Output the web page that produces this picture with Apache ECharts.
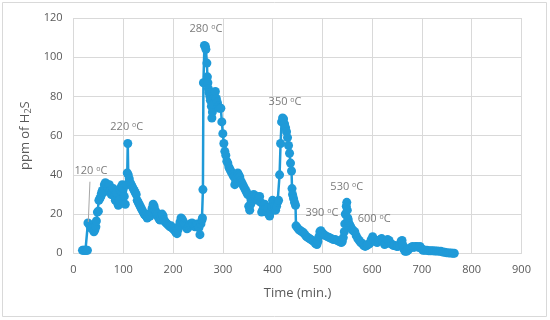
<!DOCTYPE html>
<html>
<head>
<meta charset="utf-8">
<script src="https://cdn.jsdelivr.net/npm/echarts@6/dist/echarts.min.js"></script>
<style>html,body{margin:0;padding:0;background:#fff}#c{width:550px;height:320px}</style>
</head>
<body>
<div id="c"></div>
<script>
var timeMin = [18,20,22,24,26,28,29,31,33,35,37,39,41,43,45,46,48,50,51,53,55,56,58,60,62,64,66,68,70,72,74,76,78,80,82,84,86,88,90,92,94,96,98,100,102,104,106,108,109,110,112,114,116,118,120,122,124,126,128,130,132,134,136,138,140,142,144,146,148,150,152,154,156,158,160,162,164,166,168,170,172,174,176,178,180,182,184,186,188,190,192,194,196,198,200,202,204,206,208,210,212,214,216,218,220,222,224,226,228,230,232,234,236,238,240,242,244,246,248,250,252,254,256,258,259,260,261,263,265,266,268,269,270,271,272,274,275,277,278,279,281,283,285,287,289,291,293,296,298,300,302,304,306,308,310,312,314,316,318,320,322,324,326,328,330,332,334,336,338,340,342,344,346,348,350,352,354,356,358,360,362,364,366,368,370,372,374,376,378,380,382,384,386,388,390,392,394,396,398,400,402,404,406,408,410,412,414,416,418,420,422,424,426,428,430,432,434,436,438,439,440,442,444,446,447,450,453,456,459,462,465,468,471,474,477,480,483,486,489,491,493,495,497,499,501,503,506,510,514,518,522,526,530,534,538,540,542,544,545,546,548,549,550,551,552,554,556,558,560,562,565,568,571,574,577,580,583,586,589,592,595,598,601,604,607,610,613,616,619,622,625,628,631,634,637,640,643,646,649,652,655,658,660,662,664,666,669,672,675,678,681,684,687,690,693,696,699,702,706,710,714,718,722,726,730,734,738,742,746,750,754,758,762,765];
var ppmH2S = [1.5,1.5,1.5,1.5,1.5,1.5,15.5,15,14,13,12.5,13,11,12,13.5,16.5,21,21.5,27,28,29,30.5,32,31,35,36,35.5,34,33,35,32,30,31,33,29,27,31,26,24.5,27,32,34,35,33,29,25,35,41,56,40,38,36,35,34,33,32,31,30,27,26,25,24,23,22,21,20,19.5,19,18,18.5,20,19,21,23,25,24,22,21,20,18.5,17.5,17,18.5,20,19,17,16,15.5,15,14.5,14,13.5,14,13,12.5,12,11.5,10.5,10,12,14,16,18,17.5,16.5,15,14,13.5,12.5,13,14,15,14.5,15.5,15,14,13.5,14,15,14.5,13,9.5,15,17,18,32.5,87,106,105.5,104,97,90,87,84,82,80,78,75,69,72,76,80,82.5,79,77,75,74,74,67,61,56,52,50,47,46,44,43,42,41,40,39,35,37,39,41,40,39,37,36,35,34,33,32,31,30,24,22,25,28,29,30,29,28,29,27,28,29,26,21,22,24,25,23,21,23,20,19,21,24,27,26,24,22,24,26,27,40,56,67,69,68.5,66,64,62,59,55,51,46,42,33,30,28,26,24.5,14,13,12,11.5,11,10.5,9.5,8.5,8,7.5,7,6.5,6,5,4.5,6,8.5,11,11.5,10.5,10,9.5,9,8.5,8,7.5,7,7,6.5,6,5.5,6,8,11,15,20,24,26,22,18,17,15,14,13,12,11.5,11,9,7.5,6.5,5.5,5,4,3.5,4,4.5,5,7,8.5,7,6,5.5,6.5,7,7.5,6,4.5,5,7,6.5,5,4.5,4,4,3.5,3.5,4,6,6.5,4,2,1,1,1.5,2.5,3,3.5,3,3.5,3.5,3,3.5,2.5,1.5,1.5,1.5,1.3,1.3,1.3,1.2,1.2,1.1,1,0.6,0.5,0.3,0.2,0.1,0,0];
var xTicks = [0,100,200,300,400,500,600,700,800,900];
var yTicks = [0,20,40,60,80,100,120];
var annTemp = ['120','220','280','350','390','530','600'];
var annX = [35,107,266,425,499,549,604];
var annY = [42,64.5,114.5,77,20.6,34,17.5];
var leaderFrom = [33,36.5];
var leaderTo = [29.7,16];

var FONT = '"Open Sans", "Noto Sans", sans-serif';
var TXT = '#595959';
var BLUE = '#1f9ad8';
var GRIDC = '#d9d9d9';

var pts = timeMin.map(function(t,i){return [t, ppmH2S[i]];});
var ann = annX.map(function(x,i){return {value:[x, annY[i]], name: annTemp[i]};});

var chart = echarts.init(document.getElementById('c'), null, {renderer:'canvas'});
chart.setOption({
  animation:false,
  backgroundColor:'#fff',
  graphic:[{type:'rect', shape:{x:2.5,y:2.5,width:544,height:314}, style:{fill:'none', stroke:GRIDC, lineWidth:1}, silent:true}],
  grid:{left:73.5, right:28.5, top:18, bottom:66.7, containLabel:false},
  xAxis:{
    type:'value', min:xTicks[0], max:xTicks[xTicks.length-1], interval:100,
    name:'Time (min.)', nameLocation:'middle', nameGap:33,
    nameTextStyle:{fontFamily:FONT, fontSize:13, color:TXT},
    axisLine:{show:true, lineStyle:{color:GRIDC, width:1}},
    axisTick:{show:false},
    axisLabel:{fontFamily:FONT, fontSize:11, color:TXT, margin:11},
    splitLine:{show:true, lineStyle:{color:GRIDC, width:1}}
  },
  yAxis:{
    type:'value', min:yTicks[0], max:yTicks[yTicks.length-1], interval:20,
    name:'ppm of H{sub|2}S', nameLocation:'middle', nameGap:28,
    nameTextStyle:{fontFamily:FONT, fontSize:13, color:TXT,
      rich:{sub:{fontFamily:FONT, fontSize:9, color:TXT, padding:[6,0,0,0]}}},
    axisLine:{show:false}, axisTick:{show:false},
    axisLabel:{fontFamily:FONT, fontSize:11, color:TXT, margin:11},
    splitLine:{show:true, lineStyle:{color:GRIDC, width:1}}
  },
  series:[
    {
      type:'line', data:pts, symbol:'circle', symbolSize:9, showSymbol:true,
      itemStyle:{color:BLUE, borderWidth:0}, lineStyle:{color:BLUE, width:2.5},
      z:2,
      markLine:{silent:true, symbol:['none','none'], label:{show:false},
        lineStyle:{color:'#a6a6a6', width:1, type:'solid'},
        data:[[{coord:leaderFrom},{coord:leaderTo}]]}
    },
    {
      type:'scatter', data:ann, symbolSize:0, z:5,
      label:{show:true, position:'inside', color:TXT, fontFamily:FONT,
        formatter:function(p){return '{a|'+p.name+' }{o|o}{a|C}';},
        rich:{a:{fontFamily:FONT, fontSize:11, color:TXT},
              o:{fontFamily:FONT, fontSize:7, color:TXT, verticalAlign:'top'}}}
    }
  ]
});
</script>
</body>
</html>
